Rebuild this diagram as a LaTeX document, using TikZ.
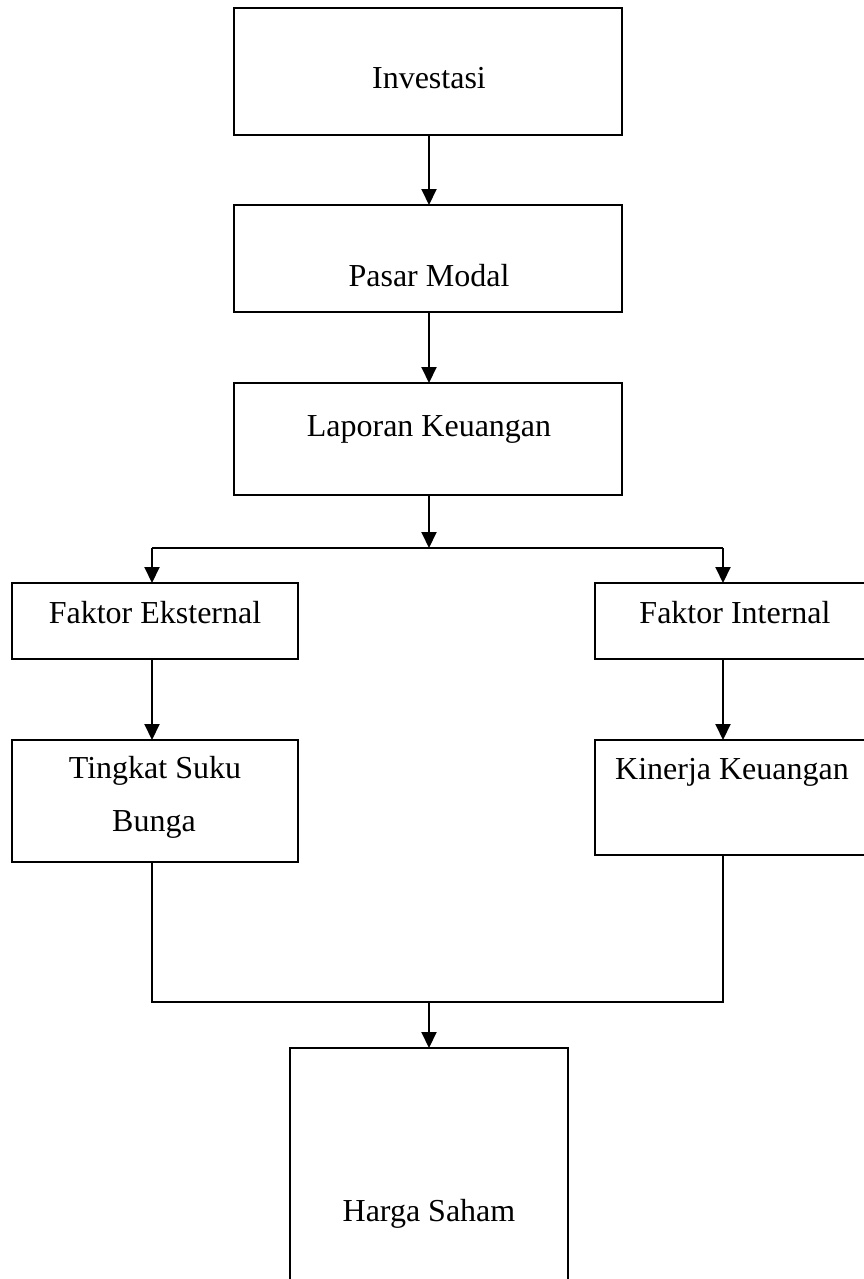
\documentclass[tikz,border=0pt]{standalone}
\usepackage{fontspec}
\setmainfont{Liberation Serif}
\usetikzlibrary{arrows.meta}
\begin{document}
\begin{tikzpicture}[x=0.5pt,y=-0.5pt,
  box/.style={draw, line width=1pt, inner sep=0pt, outer sep=0pt, anchor=north west},
  lbl/.style={font=\fontsize{16}{19}\selectfont, inner sep=0pt, anchor=base},
  ln/.style={line width=1pt},
  arr/.style={line width=1pt, -{Triangle[length=8pt,width=7.5pt]}}]
\useasboundingbox (0,0) rectangle (863,1279);
\node[box, minimum width=194pt, minimum height=63.5pt] (inv) at (234,8) {};
\node[box, minimum width=194pt, minimum height=53.5pt] (pas) at (234,205) {};
\node[box, minimum width=194pt, minimum height=56pt] (lap) at (234,383) {};
\node[box, minimum width=143pt, minimum height=38pt] (fe) at (12,583) {};
\node[box, minimum width=145pt, minimum height=38pt] (fi) at (595,583) {};
\node[box, minimum width=143pt, minimum height=61pt] (tsb) at (12,740) {};
\node[box, minimum width=145pt, minimum height=57.5pt] (kk) at (595,740) {};
\node[box, minimum width=139pt, minimum height=130pt] (hs) at (290,1048) {};
\node[lbl] (tinv) at (429,89) {Investasi};
\node[lbl] (tpas) at (429,286) {Pasar Modal};
\node[lbl] (tlap) at (429,436) {Laporan Keuangan};
\node[lbl] (tfe) at (155,623) {Faktor Eksternal};
\node[lbl] (tfi) at (735,623) {Faktor Internal};
\node[lbl] (ttsb1) at (155,778) {Tingkat Suku};
\node[lbl] (ttsb2) at (154,831) {Bunga};
\node[lbl] (tkk) at (732,779) {Kinerja Keuangan};
\node[lbl] (ths) at (429,1221) {Harga Saham};
\coordinate (split) at (429,548);
\coordinate (sL) at (152,548);
\coordinate (sR) at (723,548);
\coordinate (jL) at (152,1002);
\coordinate (jR) at (723,1002);
\coordinate (join) at (429,1002);
\draw[arr] (inv.south -| split) -- (pas.north -| split);
\draw[arr] (pas.south -| split) -- (lap.north -| split);
\draw[arr] (lap.south -| split) -- (split);
\draw[ln] (sL) -- (sR);
\draw[arr] (sL) -- (sL |- fe.north);
\draw[arr] (sR) -- (sR |- fi.north);
\draw[arr] (fe.south -| sL) -- (tsb.north -| sL);
\draw[arr] (fi.south -| sR) -- (kk.north -| sR);
\draw[ln] (tsb.south -| jL) -- (jL) -- (jR) -- (kk.south -| jR);
\draw[arr] (join) -- (hs.north -| join);
\end{tikzpicture}
\end{document}
